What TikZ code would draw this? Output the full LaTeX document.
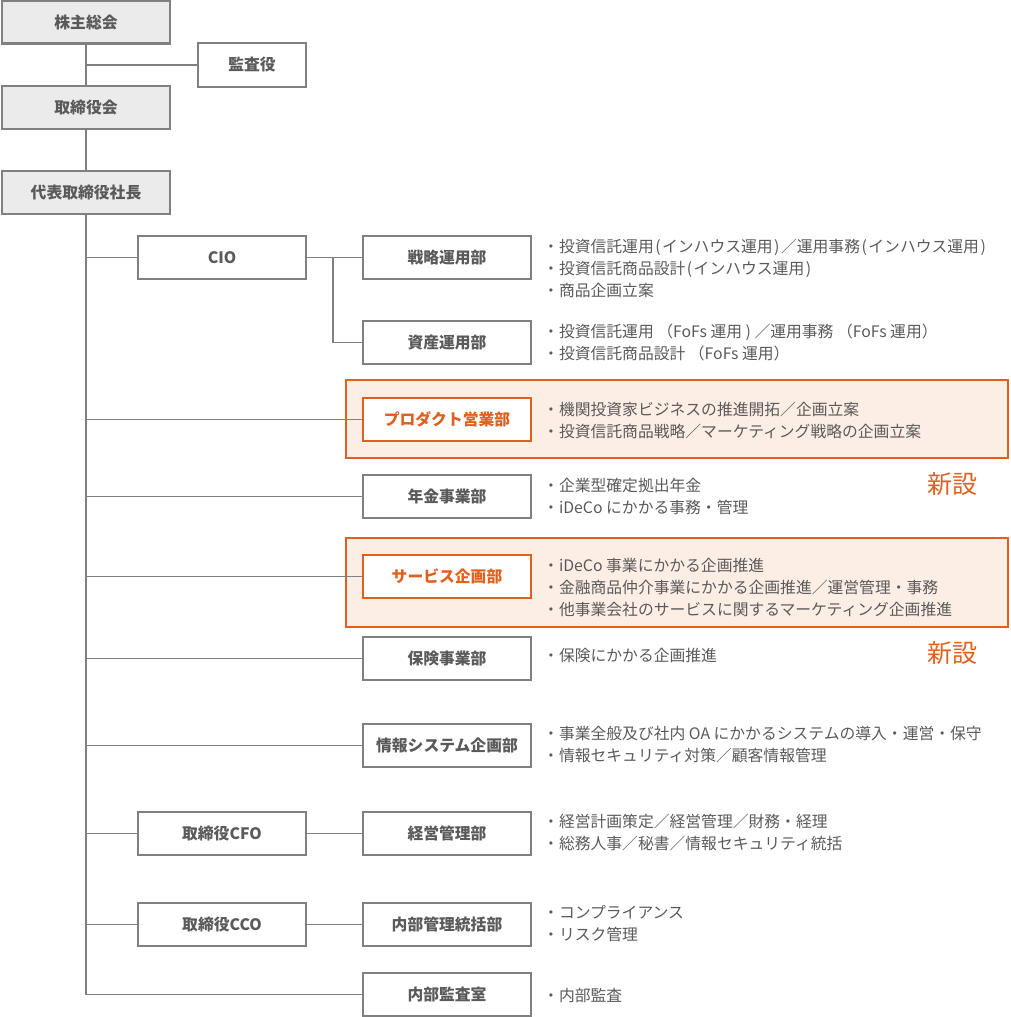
\documentclass[tikz,border=0pt]{standalone}
\usepackage{fontspec}
\setmainfont{Noto Sans CJK JP}
\newfontfamily\jpfont{Noto Sans CJK JP}
\newcommand\mysp{\hspace{1.5pt}}
\definecolor{bordergray}{HTML}{808080}
\definecolor{fillgray}{HTML}{EBEBEB}
\definecolor{txtgray}{HTML}{5A5A5A}
\definecolor{orng}{HTML}{E0601E}
\definecolor{peach}{HTML}{FDEEE5}
\tikzset{
  box/.style={draw=bordergray, line width=2.2pt, fill=white, minimum width=168pt, minimum height=43pt, inner sep=0pt, text=txtgray, font=\jpfont\fontsize{15.8}{18}\selectfont\bfseries},
  topbox/.style={box, fill=fillgray},
  newbox/.style={box, draw=orng, text=orng},
  hlbox/.style={draw=orng, line width=2.4pt, fill=peach, minimum width=662pt, inner sep=0pt},
  conn/.style={draw=bordergray, line width=1.8pt},
  desc/.style={anchor=west, align=left, inner sep=0pt, text=txtgray, font=\jpfont\fontsize{15.8}{22}\selectfont},
  newlabel/.style={text=orng, inner sep=0pt, font=\jpfont\fontsize{25}{28}\selectfont},
}
\begin{document}
\begin{tikzpicture}[x=1pt, y=-1pt]
\useasboundingbox (0,0) rectangle (1010,1017);
% highlight areas
\node[hlbox, minimum height=78pt] (hlprod) at (677,419) {};
\node[hlbox, minimum height=89pt] (hlserv) at (677,582.5) {};
% top structure
\node[topbox] (agm) at (86,22) {株主総会};
\node[box, minimum width=108pt, minimum height=44pt] (audit) at (252,65) {監査役};
\node[topbox] (board) at (86,107.5) {取締役会};
\node[topbox] (ceo) at (86,192.5) {代表取締役社長};
% officers
\node[box] (cio) at (222,257.5) {CIO};
\node[box] (cfo) at (222,833.5) {取締役CFO};
\node[box] (cco) at (222,924.5) {取締役CCO};
% departments
\node[box] (senryaku) at (447,257.5) {戦略運用部};
\node[box] (shisan) at (447,342.5) {資産運用部};
\node[newbox] (product) at (447,419.5) {プロダクト営業部};
\node[box] (nenkin) at (447,496.5) {年金事業部};
\node[newbox] (service) at (447,576.5) {サービス企画部};
\node[box] (hoken) at (447,658.5) {保険事業部};
\node[box] (joho) at (447,745.5) {情報システム企画部};
\node[box] (keiei) at (447,833.5) {経営管理部};
\node[box] (naibu) at (447,924.5) {内部管理統括部};
\node[box] (kansa) at (447,994.5) {内部監査室};
% connectors
\coordinate (j1) at (86,65);
\coordinate (j2) at (333,257.5);
\draw[conn] (agm) -- (board);
\draw[conn] (j1) -- (audit.west);
\draw[conn] (board) -- (ceo);
\draw[conn] (ceo.south) |- (kansa.west);
\draw[conn] (ceo.south |- cio.west) -- (cio.west);
\draw[conn] (ceo.south |- product.west) -- (product.west);
\draw[conn] (ceo.south |- nenkin.west) -- (nenkin.west);
\draw[conn] (ceo.south |- service.west) -- (service.west);
\draw[conn] (ceo.south |- hoken.west) -- (hoken.west);
\draw[conn] (ceo.south |- joho.west) -- (joho.west);
\draw[conn] (ceo.south |- cfo.west) -- (cfo.west);
\draw[conn] (ceo.south |- cco.west) -- (cco.west);
\draw[conn] (cio.east) -- (senryaku.west);
\draw[conn] (j2) |- (shisan.west);
\draw[conn] (cfo.east) -- (keiei.west);
\draw[conn] (cco.east) -- (naibu.west);
% descriptions
\node[desc] (d1) at (543,268) {・投資信託運用\mysp(\mysp インハウス運用\mysp)\mysp／運用事務\mysp(\mysp インハウス運用\mysp)\\・投資信託商品設計\mysp(\mysp インハウス運用\mysp)\\・商品企画立案};
\node[desc] (d2) at (543,342.5) {・投資信託運用 （FoFs 運用 ) ／運用事務 （FoFs 運用）\\・投資信託商品設計 （FoFs 運用）};
\node[desc] (d3) at (543,420) {・機関投資家ビジネスの推進開拓／企画立案\\・投資信託商品戦略／マーケティング戦略の企画立案};
\node[desc] (d4) at (543,496) {・企業型確定拠出年金\\・iDeCo にかかる事務・管理};
\node[desc] (d5) at (543,587) {・iDeCo 事業にかかる企画推進\\・金融商品仲介事業にかかる企画推進／運営管理・事務\\・他事業会社のサービスに関するマーケティング企画推進};
\node[desc] (d6) at (543,656) {・保険にかかる企画推進};
\node[desc] (d7) at (543,745) {・事業全般及び社内 OA にかかるシステムの導入・運営・保守\\・情報セキュリティ対策／顧客情報管理};
\node[desc] (d8) at (543,832) {・経営計画策定／経営管理／財務・経理\\・総務人事／秘書／情報セキュリティ統括};
\node[desc] (d9) at (543,924) {・コンプライアンス\\・リスク管理};
\node[desc] (d10) at (543,995) {・内部監査};
% new labels
\node[newlabel] (new1) at (952,484) {新設};
\node[newlabel] (new2) at (952,653) {新設};
\end{tikzpicture}
\end{document}
